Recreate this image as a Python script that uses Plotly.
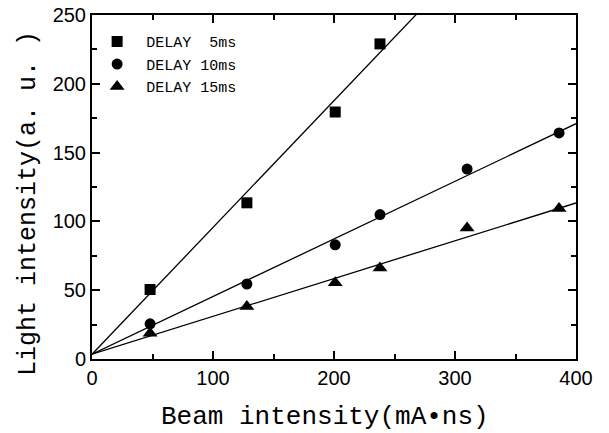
import plotly.graph_objects as go

# ---- data ----
beam_sq = [48, 128, 201, 238]
light_sq = [50.5, 113.5, 179.5, 229]

beam_c = [48, 128, 201, 238, 310, 386]
light_c = [25.6, 54.5, 83, 105, 138, 164.3]

beam_t = [48, 128, 201, 238, 310, 386]
light_t = [18.8, 38.2, 55.5, 66.1, 95.2, 109.3]

fit_x = [0, 400]
fit_sq = [3.5, 372]
fit_c = [3.5, 171]
fit_t = [3.5, 113.4]

names = ["DELAY  5ms", "DELAY 10ms", "DELAY 15ms"]
x_title = "Beam intensity(mA•ns)"
y_title = "Light intensity(a. u. )"

fig = go.Figure()
line_style = dict(color="black", width=1.3)
for fy in (fit_sq, fit_c, fit_t):
    fig.add_trace(go.Scatter(x=fit_x, y=fy, mode="lines", line=line_style,
                             showlegend=False, hoverinfo="skip"))

fig.add_trace(go.Scatter(x=beam_sq, y=light_sq, mode="markers", name=names[0],
                         marker=dict(symbol="square", size=11, color="black")))
fig.add_trace(go.Scatter(x=beam_c, y=light_c, mode="markers", name=names[1],
                         marker=dict(symbol="circle", size=11, color="black")))
fig.add_trace(go.Scatter(x=beam_t, y=light_t, mode="markers", name=names[2],
                         marker=dict(symbol="triangle-up", size=13, color="black")))

tickfont = dict(family="Liberation Sans, Arial, sans-serif", size=20, color="black")
mono = "Liberation Mono, monospace"

axis_common = dict(
    showgrid=False, zeroline=False, showline=True, linecolor="black", linewidth=2,
    mirror="allticks", ticks="inside", ticklen=8, tickwidth=1.5, tickcolor="black",
    tickfont=tickfont,
)

fig.update_xaxes(range=[0, 400], dtick=100, tick0=0,
                 minor=dict(dtick=50, ticks="inside", ticklen=5, tickwidth=1.5, tickcolor="black"),
                 **axis_common)
fig.update_yaxes(range=[0, 250], dtick=50, tick0=0,
                 minor=dict(dtick=25, ticks="inside", ticklen=5, tickwidth=1.5, tickcolor="black"),
                 **axis_common)

fig.add_annotation(text=x_title, xref="paper", yref="paper", x=0.481, y=-0.168,
                   xanchor="center", yanchor="middle", showarrow=False,
                   font=dict(family=mono, size=26, color="black"))
fig.add_annotation(text=y_title, xref="paper", yref="paper", x=-0.13, y=0.4506,
                   xanchor="center", yanchor="middle", showarrow=False, textangle=-90,
                   font=dict(family=mono, size=25, color="black"))

fig.update_layout(
    width=609, height=433,
    margin=dict(l=92, r=33, t=15, b=74, autoexpand=False),
    paper_bgcolor="white", plot_bgcolor="white",
    legend=dict(x=-0.008, y=0.97, xanchor="left", yanchor="top",
                bgcolor="rgba(0,0,0,0)", borderwidth=0, itemwidth=48,
                font=dict(family=mono, size=15, color="black"),
                tracegroupgap=0, itemsizing="trace"),
)

fig.write_html("out.html")
